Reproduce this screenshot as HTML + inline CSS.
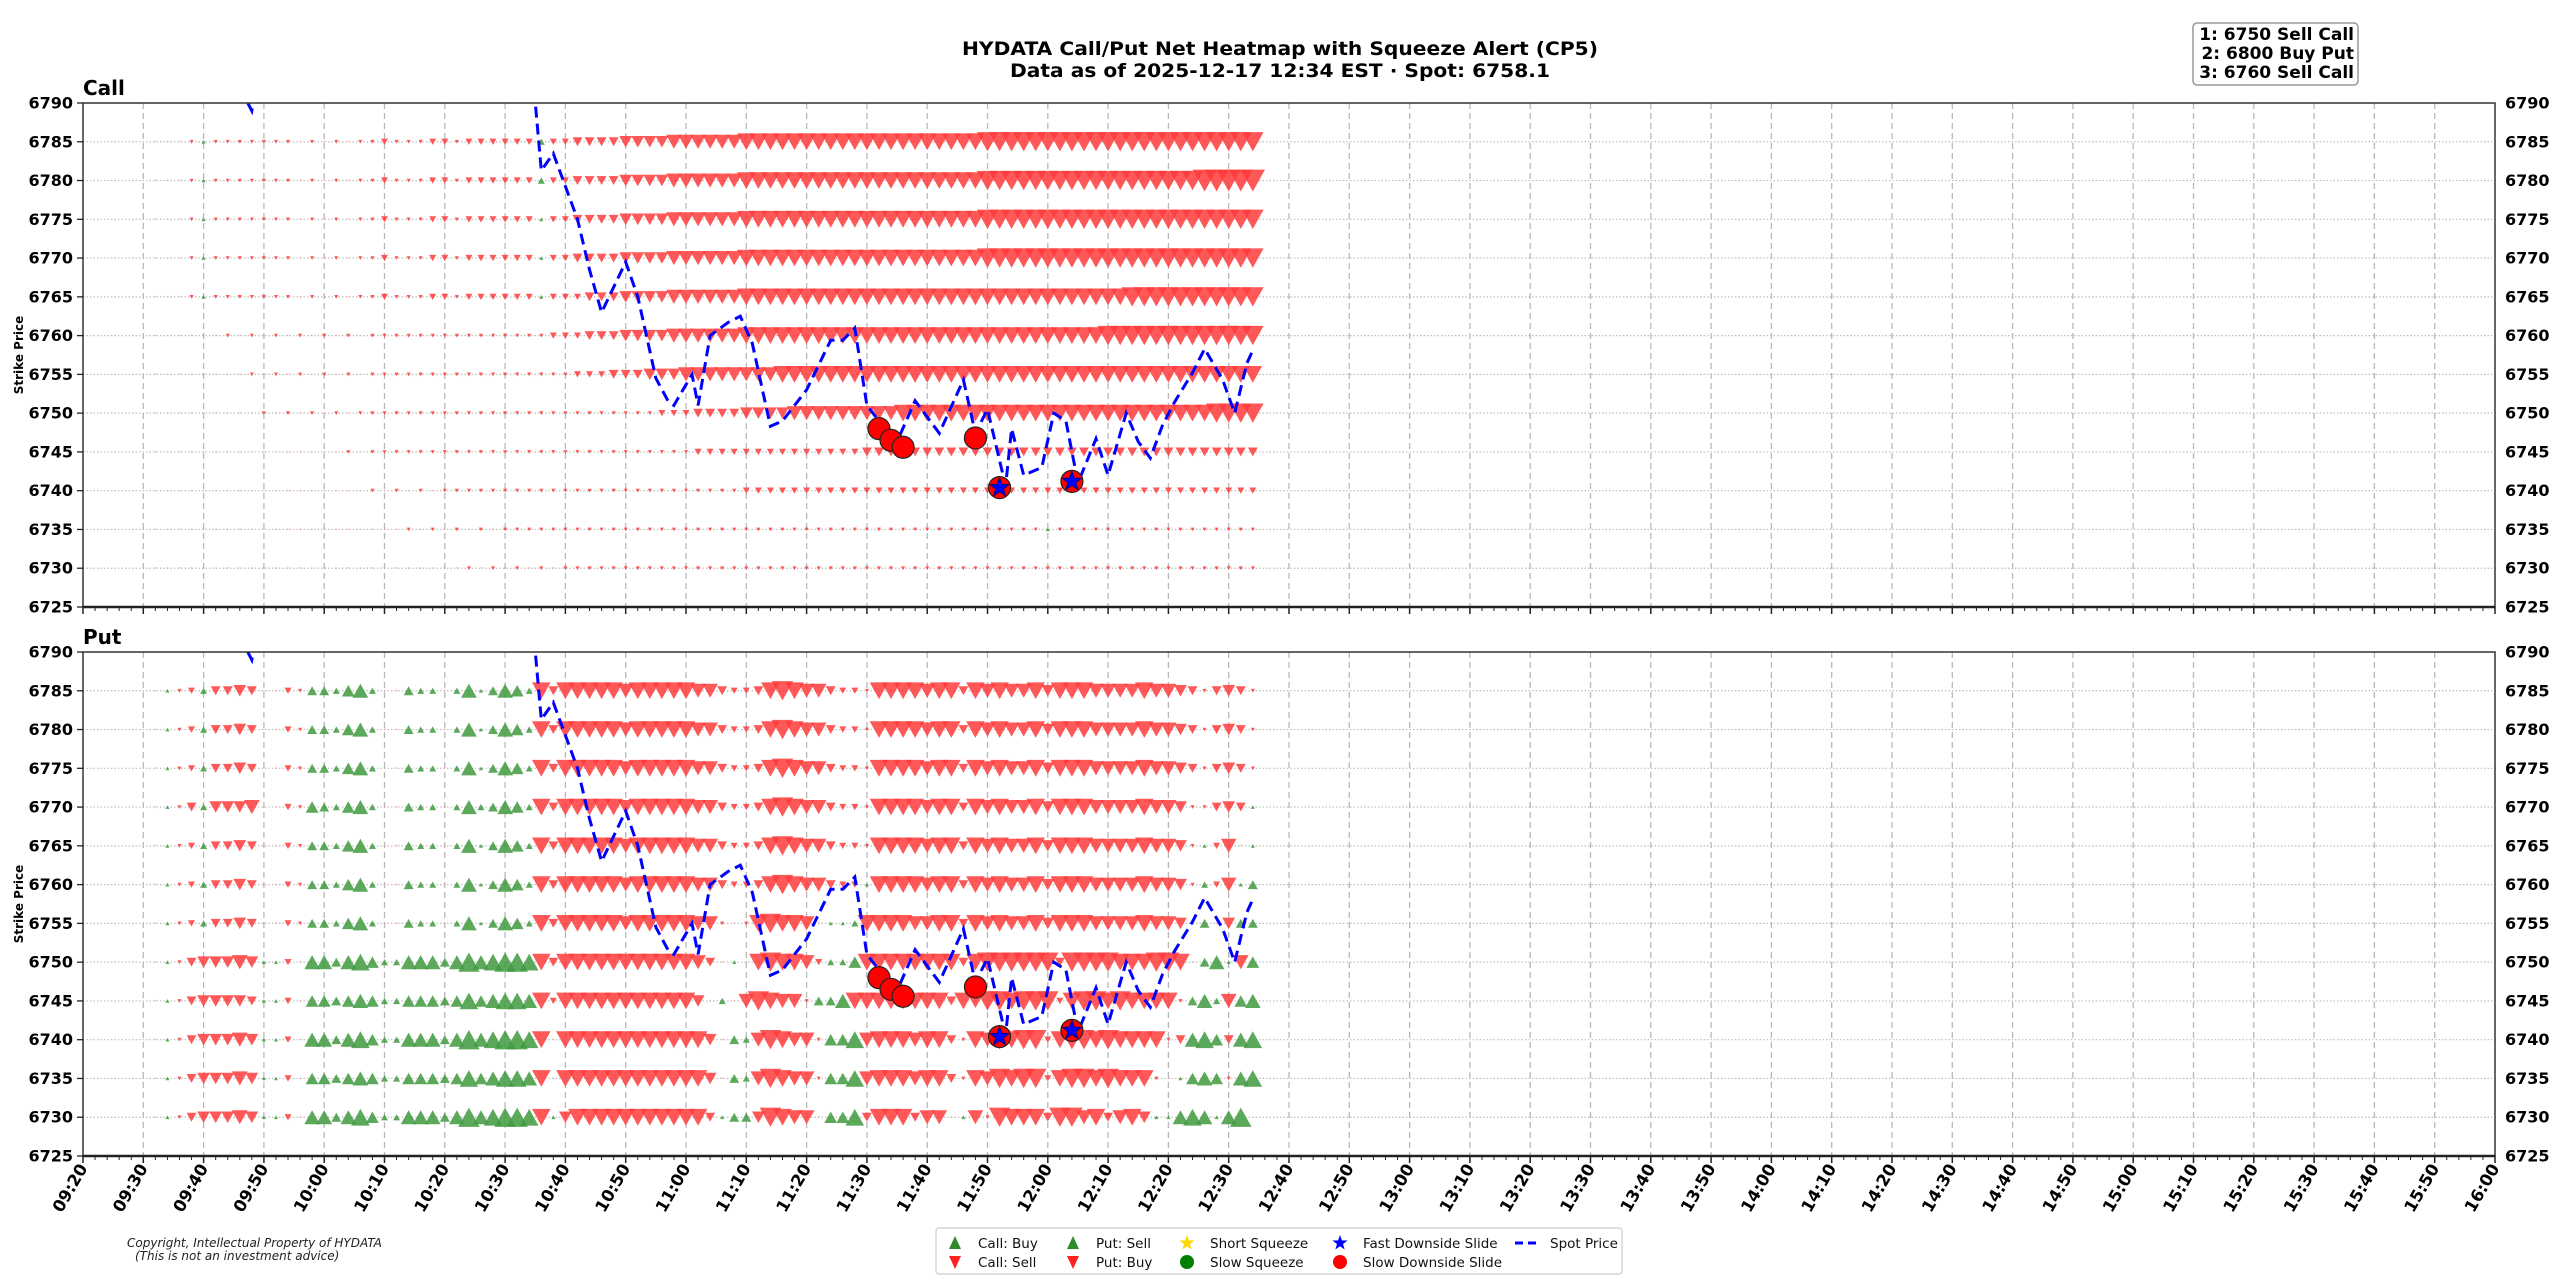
<!DOCTYPE html>
<html><head><meta charset="utf-8"><title>HYDATA Call/Put Net Heatmap</title>
<style>
html,body{margin:0;padding:0;background:#fff;}
svg{display:block;font-family:"DejaVu Sans","Liberation Sans",sans-serif;}
</style></head>
<body>
<svg id="chart" width="2560" height="1280" viewBox="0 0 2560 1280" xmlns="http://www.w3.org/2000/svg">
  <rect x="0" y="0" width="2560" height="1280" fill="#fff"/>
  <text x="1280" y="55" text-anchor="middle" font-size="19" font-weight="bold" textLength="636" lengthAdjust="spacingAndGlyphs">HYDATA Call/Put Net Heatmap with Squeeze Alert (CP5)</text>
  <text x="1280" y="77" text-anchor="middle" font-size="19" font-weight="bold" textLength="540" lengthAdjust="spacingAndGlyphs">Data as of 2025-12-17 12:34 EST · Spot: 6758.1</text>
  <g>
    <rect x="2193" y="23" width="165" height="62" rx="4" fill="#fff" stroke="#999" stroke-width="1.5"/>
    <text x="2354" y="40" text-anchor="end" font-size="17" font-weight="bold">1: 6750 Sell Call</text>
    <text x="2354" y="59" text-anchor="end" font-size="17" font-weight="bold">2: 6800 Buy Put</text>
    <text x="2354" y="78" text-anchor="end" font-size="17" font-weight="bold">3: 6760 Sell Call</text>
  </g>
  <g id="panels"></g>
  <g id="xlabels"></g>
  <text x="127" y="1247" font-size="12" font-style="italic" fill="#222">Copyright, Intellectual Property of HYDATA</text>
  <text x="135" y="1260" font-size="12" font-style="italic" fill="#222">(This is not an investment advice)</text>
  <g id="legend">
    <rect x="936" y="1228" width="686" height="46" rx="3" fill="#fff" stroke="#ccc" stroke-width="1.2"/>
  </g>
</svg>
<script>
// ---------- data ----------
const strikes = [6785,6780,6775,6770,6765,6760,6755,6750,6745,6740,6735,6730];
const startTime = "09:32";           // first heatmap column
const stepMinutes = 2;               // column interval
// Encoding: '.' tiny, a-i = red down magnitude 1-9, A-I = green up magnitude 1-9
const callRows = [
 "...aAaaaaaaa.a.a.aabaaabbabbbbbbBbbccccddddeeeeeeffffffffffffffffffffgggggggggggggggggggggggh",
 "...aAaaaaaaa.a.a.aabaaabbabbbbbbBbbccccddddeeeeeeffffffffffffffffffffgggggggggggggggggghhhhhh",
 "...aAaaaaaaa.a.a.aabaaabbabbbbbbAbbccccddddeeeeeeffffffffffffffffffffgggggggggggggggggggggggg",
 "...aAaaaaaaa.a.a.aabaaabbabbbbbbAbbccccddddeeeeeeffffffffffffffffffffgggggggggggggggggggggggg",
 "...aAaaaaaaa.a.a.aabaaabbabbbbbbAbbbcccddddeeeeeeffffffffffffffffffffffffffffffffgggggggggggg",
 "......a.a.a.a.a.a.aaaaaaaaaaaaaaabbbcccddddeeeeeeffffffffffffffffffffffffffffffgggggggggggggg",
 "........a.a.a.a.a.aaaaaaaaaaaaaaaaabbbcccdddeeeeeeeefffffffffffffffffffffffffffffffffffffffff",
 ".........a.a.a.a.aaaaaaaaaaaaaaaaaaaaaaaaabbbccccddddeeeeeeeeeffffffffffffffffffffffffffgggg",
 "................a.aaaaaaaaaaaaaaaaaaaaaaaaaaabbbbbbbbbbbbbbccccccccccccccccccccccccccccccccc",
 "..................a.a.a.aaaaaaaaaaaaaaaaaaaaaaaaabbbbbbbbbbbbbbbbbbbbbbbbbbbbbbbbbbbbbbbbbbbb",
 ".....................a.a.a.a.aaaaaaaaaaaaaaaaaaaaaaaaaaaaaaaaaaaaaaaaaaaaaAaaaaaaaaaaaaaaaaa",
 "..........................a.a.a.a.aaaaaaaaaaaaaaaaaaaaaaaaaaaaaaaaaaaaaaaaaaaaaaaaaaaaaaaaaa"
];
const putRows = [
 ".AabBccdc..baCCBDEB..CBB.BEACEDBfcfffffefffffeecbbcfgfeecbbaffffeffcfefeefdfffeeeefeedcacdca",
 ".AabBccdc..baCCBDEB..CBB.BEACEDBfcfffffefffffeecbbcfgfeecbbaffffeffcfefeefdfffeeeefeedcacdca",
 ".AabBccdc..baCCBDEB..CBB.BEACEDBfcfffffefffffeecbbcfgfeecbbaffffeffcfefeefdfffeeeefeedcacdca",
 ".AacBddde..baDCBDEB..CBB.BEBCEDBfcfffffefffffeecbbcfgfeecbbaffffeffcfefeefdfffeeeefeedaacdcA",
 ".AabBccdc..baCCBDEB..CBB.BEACEDBfcfffffefffffeecbbcfgfeecbbaffffeffcfefeefdfffeeeefeedaAbe.A",
 ".AabBccdc..baCCBDEB..CBB.BEACEDBfcfffffefffffeecbbcfgfeecbbAffffeffcfefeefdfffeeeefeedaBbeAC",
 ".AabBccdc..baCCBDEB..CBB.BEACEDBfcfffffefffffeea.afgffe.AABffffeeffcfefeefdfffeeeefeed.C.dCC",
 ".AacdddedAAb.EECEFDBBEEECEGEFGGFfcfffffffffffec.A.fgffebBBDffffffffcfggggggcggggfffggf.CEAeDE",
 ".AacddddcAAb.DDCDEDBBDDDCDFDEFFEfbfffffffffffd.B.egfeeaCCEffffffffcfeggfgggbfggfgffffaCEBeDE",
 ".AacdddedAAb.EECEFDBBEEECEGEFGGFf.ffffffffffffd.CBegfeeaDDFefffeffcafegfggbfggfgffffacEFDcEF",
 ".AacdddedAAb.DDCDEDBBDDDCDFDEFFEf.ffffffffffffd.CBegfeeaDDFefffeffcafegfggbfggfgfffa.ADEDaEF",
 ".AacdddedAAb.EECEFDBBEEECEGEFGGFfAdfffffffffffcACCdgfee.DDFcfffcee.AeagfffcggefcefdAAEFEAEG"
];
// spot price series
const spotTimes = ["09:44","09:46","09:48","09:49","09:51","10:34","10:35","10:36","10:38","10:42","10:44","10:46","10:50","10:52","10:55","10:57","10:58","11:01","11:02","11:04","11:07","11:09","11:11","11:14","11:16","11:20","11:24","11:26","11:28","11:30","11:33","11:35","11:38","11:42","11:46","11:48","11:50","11:53","11:54","11:56","11:59","12:01","12:03","12:05","12:08","12:10","12:13","12:15","12:17","12:19","12:21","12:24","12:26","12:29","12:31","12:33","12:34"];
const spotValues = [6796,6792,6789,6793,6797,6797,6790,6781.3,6783.5,6775,6768.5,6763,6769.5,6765,6754.5,6751.6,6751,6755,6751,6760,6761.7,6762.5,6759,6748.3,6749,6753,6759.4,6759.4,6761,6751,6748,6746.3,6751.6,6747.4,6754.3,6747.4,6750.5,6740.6,6748,6742,6743,6750,6749,6741,6746.7,6742,6750,6746.3,6744.2,6748.4,6751.4,6755.2,6758.3,6754.3,6750,6756.4,6758.1];
// alerts
const slowSlideTimes = ["11:32","11:34","11:36","11:48","11:52","12:04"];
const slowSlidePrices = [6748,6746.5,6745.6,6746.8,6740.4,6741.2];
const fastSlideTimes = ["11:52","12:04"];
const fastSlidePrices = [6740.4,6741.2];
// axes
const xTickLabels = [];
for (let m = 9*60+20; m <= 16*60; m += 10) xTickLabels.push(String(Math.floor(m/60)).padStart(2,'0') + ":" + String(m%60).padStart(2,'0'));
const yTicks = [6790,6785,6780,6775,6770,6765,6760,6755,6750,6745,6740,6735,6730,6725];

// ---------- geometry ----------
const NS = "http://www.w3.org/2000/svg";
const X0 = 83, X1 = 2495, T0 = 9*60+20, T1 = 16*60;
const YMAX = 6790, YMIN = 6725;
const panels = [{name:"call", title:"Call", top:103, bottom:607, rows:callRows},
                {name:"put", title:"Put", top:652, bottom:1156, rows:putRows}];
function tmin(s){const p=s.split(":");return (+p[0])*60+(+p[1]);}
function xScale(t){return X0 + (t - T0) * (X1 - X0) / (T1 - T0);}
function yScaleFor(p){return v => p.top + (YMAX - v) * (p.bottom - p.top) / (YMAX - YMIN);}
function mk(tag, attrs, parent){const e=document.createElementNS(NS,tag);for(const k in attrs)e.setAttribute(k,attrs[k]);if(parent)parent.appendChild(e);return e;}

const root = document.getElementById("panels");
const defs = mk("defs", {}, root);

panels.forEach((p, pi) => {
  const y = yScaleFor(p);
  const g = mk("g", {}, root);
  
  
  const cp = mk("clipPath", {id: "clip" + pi}, defs);
  mk("rect", {x: X0, y: p.top, width: X1 - X0, height: p.bottom - p.top}, cp);

  for (let m = T0 + 10; m < T1; m += 10) {
    const gl = mk("line", {x1: xScale(m), x2: xScale(m), y1: p.top, y2: p.bottom, stroke: "#b8b8b8", "stroke-width": 1.3, "stroke-dasharray": "6,4"}, g);
    
    
  }
  strikes.forEach(s => {
    const hl = mk("line", {x1: X0, x2: X1, y1: y(s), y2: y(s), stroke: "#bdbdbd", "stroke-width": 1.2, "stroke-dasharray": "1.5,2"}, g);
    
    
  });

  const plot = mk("g", {"clip-path": "url(#clip" + pi + ")"}, g);
  const t0 = tmin(startTime);
  const tEnd = tmin("12:34");
  p.rows.forEach((row, ri) => {
    const s = strikes[ri];
    const cy = y(s);
    for (let i = 0; i < row.length; i++) {
      const ch = row[i];
      const t = t0 + i * stepMinutes;
      if (t > tEnd) break;
      const cx = xScale(t);
      let mag, upw;
      if (ch === '.') { mag = 0.35; upw = null; }
      else if (ch >= 'a' && ch <= 'i') { mag = ch.charCodeAt(0) - 96; upw = false; }
      else if (ch >= 'A' && ch <= 'I') { mag = ch.charCodeAt(0) - 64; upw = true; }
      else continue;
      const w = 1.2 + 2.9 * mag, h = w * 0.9;
      let pts, fill;
      if (upw === true) { pts = [[cx - w/2, cy + h/2], [cx + w/2, cy + h/2], [cx, cy - h/2]]; fill = "#3f9a3f"; }
      else { pts = [[cx - w/2, cy - h/2], [cx + w/2, cy - h/2], [cx, cy + h/2]]; fill = upw === false ? "#ff3b3b" : "#ff8080"; }
      const tri = mk("polygon", {points: pts.map(q => q[0].toFixed(1) + "," + q[1].toFixed(1)).join(" "), fill: fill, "fill-opacity": upw === null ? 0.5 : 0.85}, plot);
      
      
    }
  });

  const d = spotTimes.map((tt, i) => (i ? "L" : "M") + xScale(tmin(tt)).toFixed(1) + "," + y(spotValues[i]).toFixed(1)).join(" ");
  const sp = mk("path", {d: d, fill: "none", stroke: "#0000ff", "stroke-width": 3, "stroke-dasharray": "11,6"}, plot);
  
  

  slowSlideTimes.forEach((tt, i) => {
    const c = mk("circle", {cx: xScale(tmin(tt)), cy: y(slowSlidePrices[i]), r: 11, fill: "#ff0000", stroke: "#222", "stroke-width": 1.2}, plot);
    
    
  });
  fastSlideTimes.forEach((tt, i) => {
    const cx = xScale(tmin(tt)), cy = y(fastSlidePrices[i]);
    const pts = [];
    for (let k = 0; k < 10; k++) { const r = k % 2 ? 4.2 : 10; const a = -Math.PI/2 + k * Math.PI/5; pts.push((cx + r*Math.cos(a)).toFixed(1) + "," + (cy + r*Math.sin(a)).toFixed(1)); }
    const st = mk("polygon", {points: pts.join(" "), fill: "#0000ff", stroke: "#000066", "stroke-width": 0.8}, plot);
    
    
  });

  const fr = mk("rect", {x: X0, y: p.top, width: X1 - X0, height: p.bottom - p.top, fill: "none", stroke: "#333", "stroke-width": 1.5}, g);
  
  
  mk("line", {x1: X0, x2: X1, y1: p.bottom, y2: p.bottom, stroke: "#222", "stroke-width": 2.5}, g);
  for (let m = T0; m <= T1; m += 2) {
    const major = (m - T0) % 10 === 0;
    mk("line", {x1: xScale(m), x2: xScale(m), y1: p.bottom, y2: p.bottom + (major ? 7 : 4), stroke: "#222", "stroke-width": major ? 1.5 : 1}, g);
  }
  yTicks.forEach(v => {
    mk("line", {x1: X0 - 6, x2: X0, y1: y(v), y2: y(v), stroke: "#222", "stroke-width": 1.3}, g);
    const l = mk("text", {x: X0 - 10, y: y(v) + 5.5, "text-anchor": "end", "font-size": 16, "font-weight": "bold"}, g);
    l.textContent = v;
    
    
    const r = mk("text", {x: X1 + 10, y: y(v) + 5.5, "text-anchor": "start", "font-size": 16, "font-weight": "bold"}, g);
    r.textContent = v;
    
    
  });
  const tt = mk("text", {x: X0, y: p.top - 8, "font-size": 20, "font-weight": "bold"}, g);
  tt.textContent = p.title;
  
  
  const yl = mk("text", {x: 0, y: 0, transform: "translate(23," + ((p.top + p.bottom) / 2) + ") rotate(-90)", "text-anchor": "middle", "font-size": 12, "font-weight": "bold"}, g);
  yl.textContent = "Strike Price";
  
  
});

const xl = document.getElementById("xlabels");
xTickLabels.forEach(lbl => {
  const x = xScale(tmin(lbl));
  const t = mk("text", {transform: "translate(" + (x + 5) + ",1168) rotate(-60)", "text-anchor": "end", "font-size": 16.5, "font-weight": "bold"}, xl);
  t.textContent = lbl;
  
  
});

const lg = document.getElementById("legend");
const legendItems = [
  {x:955, y:1243, type:"up", color:"#2e8b2e", label:"Call: Buy"},
  {x:955, y:1262, type:"down", color:"#ff2020", label:"Call: Sell"},
  {x:1073, y:1243, type:"up", color:"#2e8b2e", label:"Put: Sell"},
  {x:1073, y:1262, type:"down", color:"#ff2020", label:"Put: Buy"},
  {x:1187, y:1243, type:"star", color:"#ffd700", label:"Short Squeeze"},
  {x:1187, y:1262, type:"circle", color:"#008000", label:"Slow Squeeze"},
  {x:1340, y:1243, type:"star", color:"#0000ff", label:"Fast Downside Slide"},
  {x:1340, y:1262, type:"circle", color:"#ff0000", label:"Slow Downside Slide"},
  {x:1527, y:1243, type:"dash", color:"#0000ff", label:"Spot Price"}
];
legendItems.forEach(it => {
  const g = mk("g", {}, lg);
  
  
  const cx = it.x, cy = it.y;
  if (it.type === "up") mk("polygon", {points: `${cx-6},${cy+6} ${cx+6},${cy+6} ${cx},${cy-7}`, fill: it.color}, g);
  else if (it.type === "down") mk("polygon", {points: `${cx-6},${cy-6} ${cx+6},${cy-6} ${cx},${cy+7}`, fill: it.color}, g);
  else if (it.type === "circle") mk("circle", {cx: cx, cy: cy, r: 7, fill: it.color}, g);
  else if (it.type === "star") {
    const pts = [];
    for (let k = 0; k < 10; k++) { const r = k % 2 ? 3.2 : 8; const a = -Math.PI/2 + k * Math.PI/5; pts.push((cx + r*Math.cos(a)).toFixed(1) + "," + (cy + r*Math.sin(a)).toFixed(1)); }
    mk("polygon", {points: pts.join(" "), fill: it.color}, g);
  } else mk("line", {x1: cx - 12, x2: cx + 12, y1: cy, y2: cy, stroke: it.color, "stroke-width": 3, "stroke-dasharray": "8,5"}, g);
  const t = mk("text", {x: cx + 23, y: cy + 5, "font-size": 13.5, fill: "#111"}, g);
  t.textContent = it.label;
});
</script>
</body></html>
